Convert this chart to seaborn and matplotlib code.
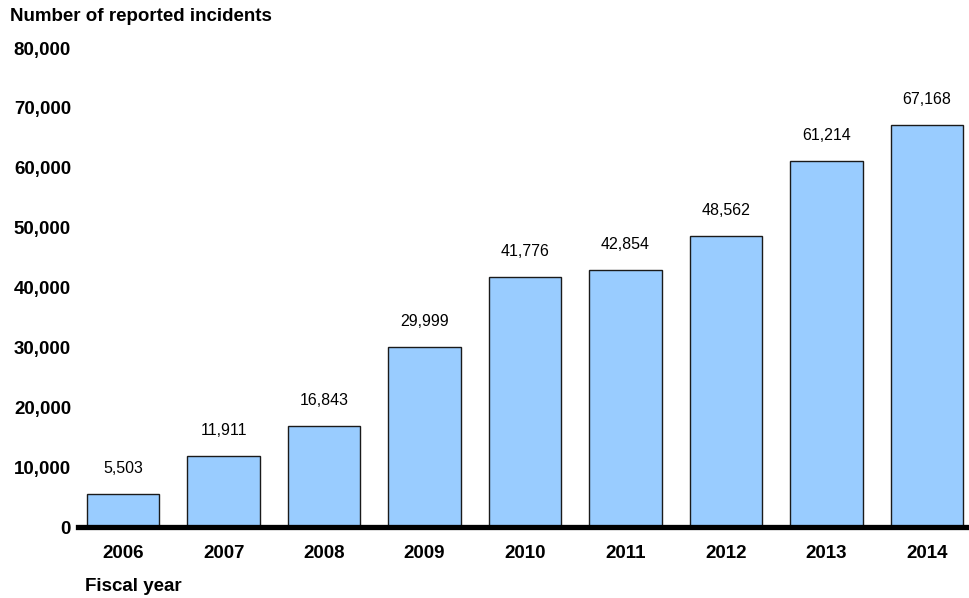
import matplotlib.pyplot as plt
import numpy as np
import pandas as pd
import seaborn as sns

# Data
years = ["2006", "2007", "2008", "2009", "2010", "2011", "2012", "2013", "2014"]
incidents = [5503, 11911, 16843, 29999, 41776, 42854, 48562, 61214, 67168]

df = pd.DataFrame({"year": years, "incidents": incidents})

sns.set_style("white")
plt.rcParams["font.family"] = ["Liberation Sans", "DejaVu Sans"]
plt.rcParams["text.color"] = "black"
plt.rcParams["xtick.color"] = "black"
plt.rcParams["ytick.color"] = "black"

fig = plt.figure(figsize=(9.7, 5.98), dpi=100)
ax = fig.add_axes([0.0804, 0.1187, 0.9176, 0.801])

sns.barplot(data=df, x="year", y="incidents", color="#99ccff",
            width=0.72, edgecolor="#1a1a1a", linewidth=1.0, saturation=1,
            ax=ax)

# value labels above bars
for i, v in enumerate(incidents):
    ax.text(i, v + 3000, f"{v:,}", ha="center", va="bottom", fontsize=11.5)

ax.set_ylim(0, 80000)
ax.set_xlim(-0.45, 8.41)
ax.set_yticks(np.arange(0, 80001, 10000))
ax.set_yticklabels([f"{t:,}" for t in range(0, 80001, 10000)],
                   fontsize=13.5, fontweight="bold")
ax.set_xticks(range(len(years)))
ax.set_xticklabels(years, fontsize=13.5, fontweight="bold")
ax.tick_params(axis="both", length=0)
ax.tick_params(axis="x", pad=13)
ax.tick_params(axis="y", pad=5)
ax.set_xlabel("")
ax.set_ylabel("")

for s in ["top", "right", "left"]:
    ax.spines[s].set_visible(False)
ax.spines["bottom"].set_linewidth(3.8)
ax.spines["bottom"].set_color("black")

fig.text(0.0103, 0.972, "Number of reported incidents", fontsize=13.5,
         fontweight="bold", ha="left", va="center")
fig.text(0.0876, 0.0184, "Fiscal year", fontsize=13.5, fontweight="bold",
         ha="left", va="center")

fig.savefig("out.png", dpi=100)
